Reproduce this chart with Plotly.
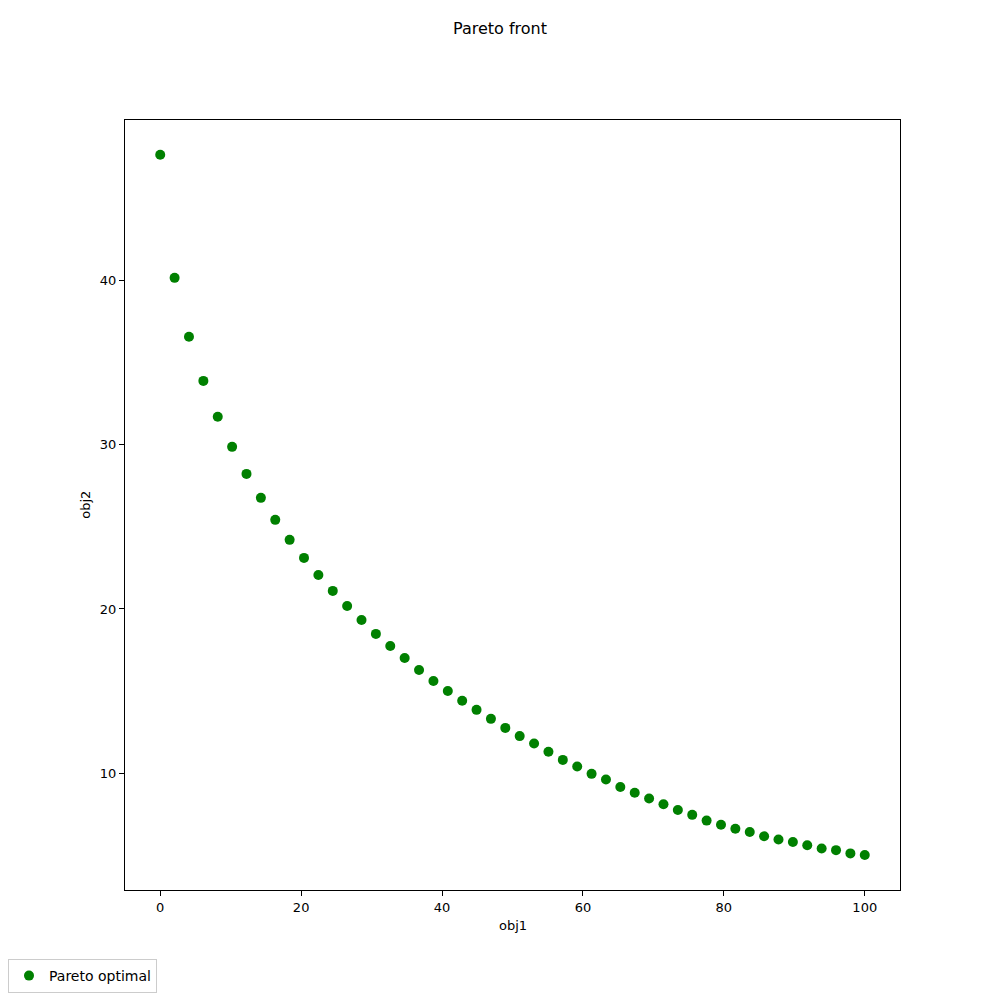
import plotly.graph_objects as go

obj1 = [i * 100 / 49 for i in range(50)]
obj2 = [47.68, 40.18, 36.59, 33.90, 31.71, 29.88, 28.23, 26.77, 25.43, 24.21,
        23.11, 22.07, 21.10, 20.18, 19.33, 18.48, 17.74, 17.01, 16.28, 15.61,
        15.00, 14.40, 13.85, 13.30, 12.75, 12.25, 11.80, 11.30, 10.80, 10.40,
        9.95, 9.60, 9.15, 8.80, 8.45, 8.10, 7.75, 7.45, 7.10, 6.85,
        6.60, 6.40, 6.15, 5.95, 5.80, 5.60, 5.40, 5.30, 5.10, 5.00]

fig = go.Figure()
fig.add_trace(go.Scatter(x=obj1, y=obj2, mode="markers", name="Pareto optimal",
                         marker=dict(color="green", size=10, line=dict(width=0))))

axis_common = dict(showgrid=False, zeroline=False, showline=True, linecolor="black",
                   linewidth=1, mirror=True, ticks="outside", ticklen=5, tickcolor="black",
                   tickfont=dict(size=13, color="black"), automargin=False)
fig.update_xaxes(range=[-5, 105], tickvals=[0, 20, 40, 60, 80, 100], **axis_common)
fig.update_yaxes(range=[2.87, 49.8], tickvals=[10, 20, 30, 40], **axis_common)

fig.add_annotation(text="obj1", xref="paper", yref="paper", x=0.5, y=-0.046,
                   xanchor="center", yanchor="middle", showarrow=False,
                   font=dict(size=13, color="black"))
fig.add_annotation(text="obj2", xref="paper", yref="paper", x=-0.052, y=0.5,
                   xanchor="center", yanchor="middle", showarrow=False, textangle=-90,
                   font=dict(size=13, color="black"))

fig.update_layout(
    width=1000, height=1000,
    margin=dict(l=125, r=100, t=120, b=110, autoexpand=False),
    plot_bgcolor="white", paper_bgcolor="white",
    font=dict(family="DejaVu Sans", color="black"),
    title=dict(text="Pareto front", x=0.5, xref="container", xanchor="center", y=0.972, yanchor="middle",
               font=dict(size=16, color="black")),
    showlegend=True,
    legend=dict(xref="container", yref="container", x=0.008, y=0.007, xanchor="left", yanchor="bottom",
                bordercolor="#cccccc", borderwidth=1, bgcolor="white", font=dict(size=14)),
)

fig.write_html("out.html")
